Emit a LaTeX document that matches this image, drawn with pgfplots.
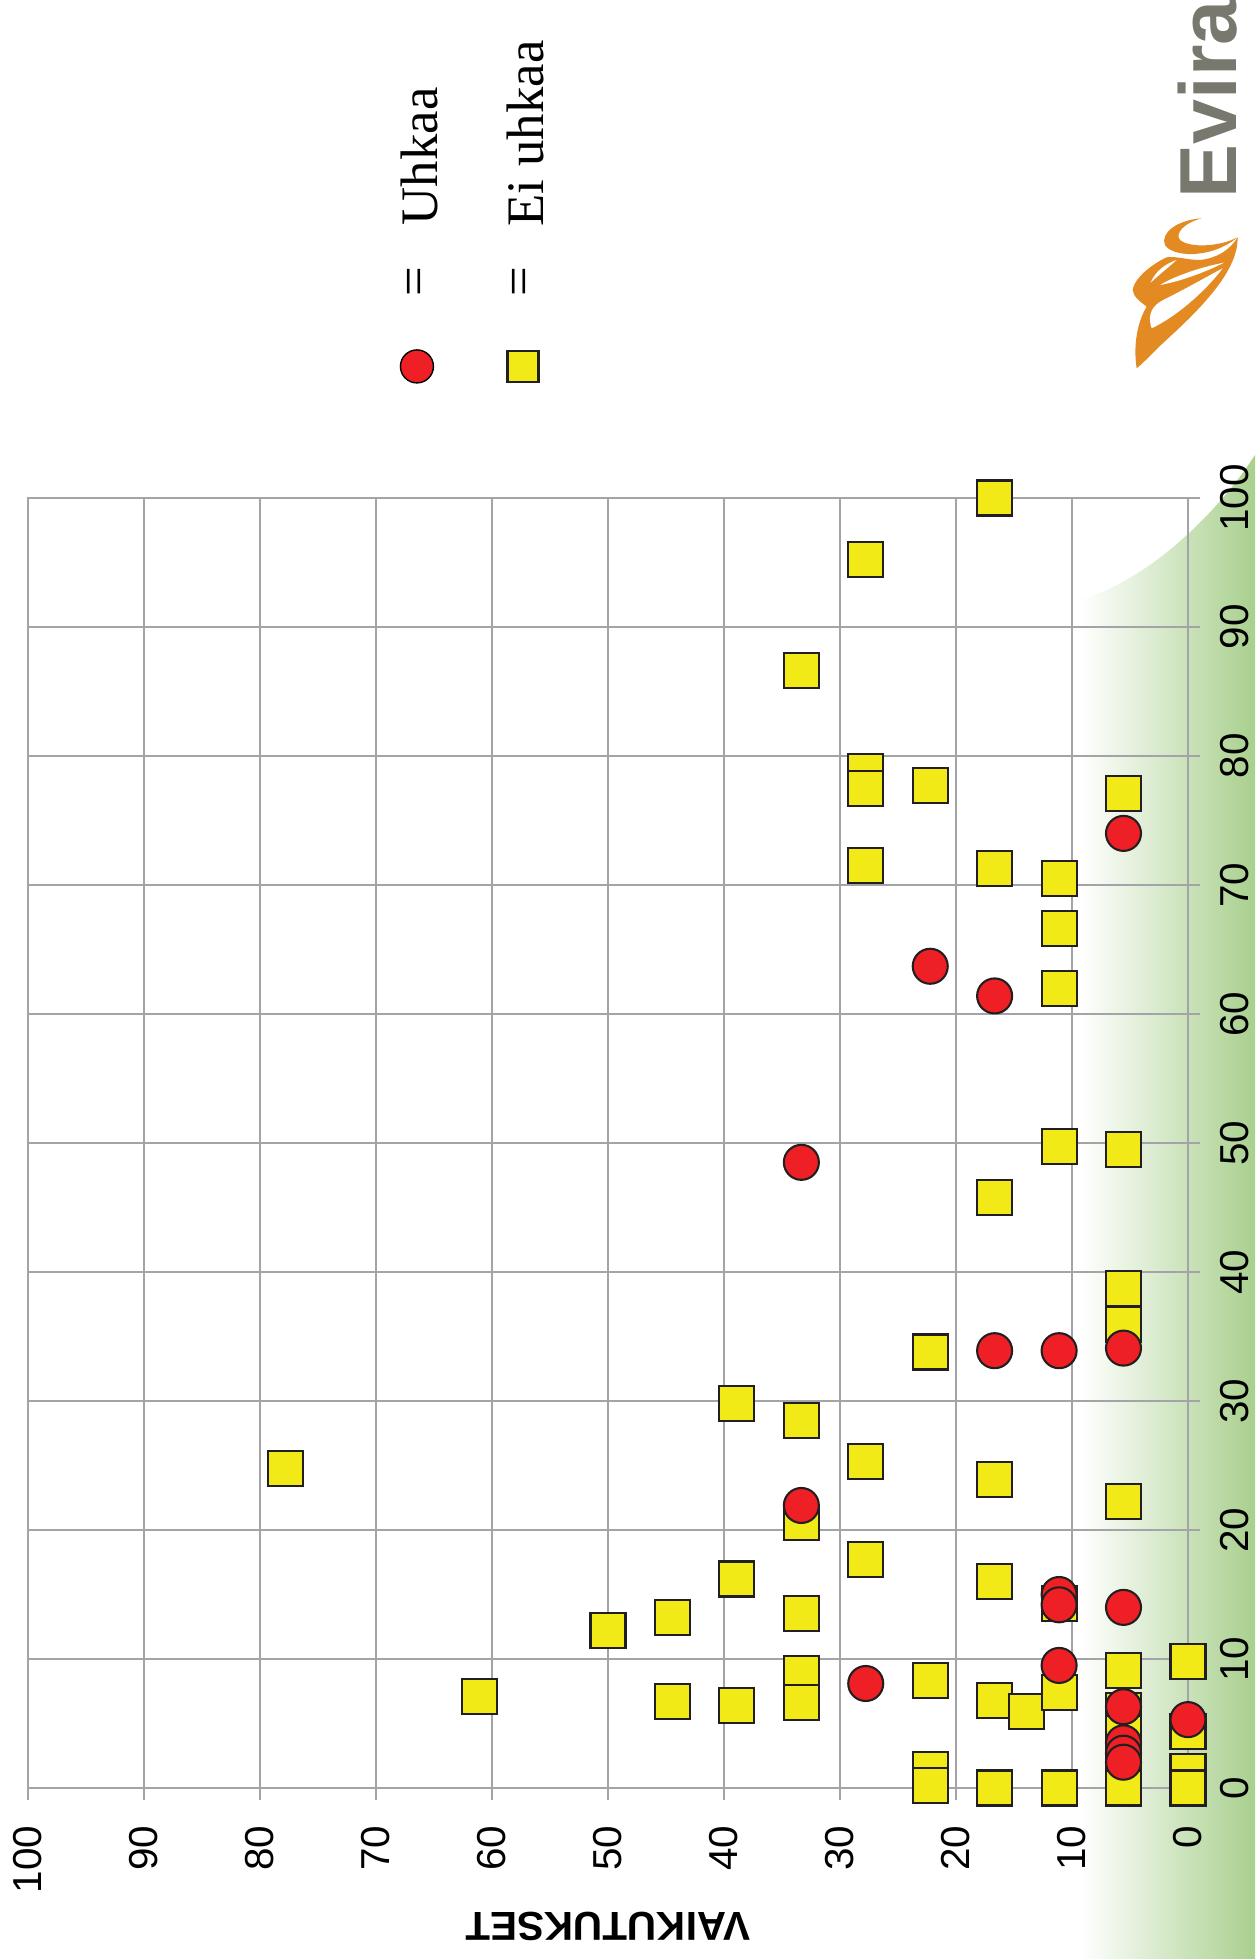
\documentclass[border=0pt]{standalone}
\usepackage{pgfplots}
\pgfplotsset{compat=1.18}
\usepackage{fontspec}
\setmainfont{Liberation Serif}
\newfontfamily\arial{Liberation Sans}
\definecolor{ured}{HTML}{EE1F25}
\definecolor{eyel}{HTML}{F2EA17}
\definecolor{edge}{HTML}{231F20}
\definecolor{gridc}{HTML}{A3A4A8}
\definecolor{green1}{HTML}{A9D08E}
\definecolor{orange1}{HTML}{E38B22}
\definecolor{evgray}{HTML}{78786F}
\begin{document}
\begin{tikzpicture}
\path[use as bounding box] (0,0) rectangle (12.55,19.59);
\clip (0,0) rectangle (12.55,19.59);
\shade[left color=white, middle color=green1!35, right color=green1] (10.80,0) -- (10.80,13.59) .. controls (11.5,13.79) and (12.2,14.49) .. (12.55,15.04) -- (12.55,0) -- cycle;
\begin{axis}[
  at={(0.28cm,1.71cm)}, anchor=south west,
  scale only axis, width=11.60cm, height=12.90cm,
  xmin=0, xmax=100, ymin=0, ymax=100, x dir=reverse,
  xtick={0,10,...,100}, ytick={0,10,...,100},
  grid=major, major grid style={gridc, line width=0.6pt},
  axis line style={gridc, line width=0.6pt},
  tick style={gridc, line width=0.6pt},
  tick align=outside, major tick length=1.2mm,
  xtick pos=left, ytick pos=right, yticklabel pos=right,
  tick label style={font=\arial\fontsize{11.5}{12}\selectfont, /pgf/number format/assume math mode=true},
  xticklabel style={yshift=-2.5mm, rotate=90, anchor=east, inner sep=0pt},
  yticklabel style={xshift=2.0mm, rotate=90, anchor=north, inner sep=0pt},
  clip=false,
  xlabel={VAIKUTUKSET},
  xlabel style={at={(axis description cs:0.5,-0.107)}, anchor=center, rotate=180, font=\arial\bfseries\fontsize{11.5}{12}\selectfont},
]
% Ei uhkaa
\addplot[only marks, mark=square*, mark size=1.75mm, mark options={fill=eyel, draw=edge, line width=0.6pt}] coordinates {
(77.78,24.8) (61.11,7.1) (50,12.2) (44.44,13.2) (44.44,6.7)
(38.89,29.8) (38.89,16.2) (38.89,6.4)
(33.33,86.6) (33.33,28.5) (33.33,20.6) (33.33,13.5) (33.33,8.9) (33.33,6.6) (33.33,6.6)
(27.78,95.2) (27.78,78.8) (27.78,77.5) (27.78,71.5) (27.78,25.3) (27.78,17.7)
(22.22,77.7) (22.22,33.8) (22.22,8.3) (22.22,1.4) (22.22,0.2)
(16.67,100) (16.67,71.3) (16.67,45.8) (16.67,23.9) (16.67,16.0) (16.67,6.8) (16.67,0)
(13.89,5.9)
(11.11,70.5) (11.11,66.6) (11.11,62.0) (11.11,49.7) (11.11,14.3) (11.11,7.4) (11.11,0)
(5.56,77.1) (5.56,77.1) (5.56,49.5) (5.56,49.5) (5.56,38.7) (5.56,35.9) (5.56,22.2) (5.56,9.1)
(5.56,6.0) (5.56,4.2) (5.56,2.0) (5.56,0)
(0,9.8) (0,4.4) (0,1.3) (0,0)
};
% Uhkaa
\addplot[only marks, mark=*, mark size=1.75mm, mark options={fill=ured, draw=edge, line width=0.6pt}] coordinates {
(5.56,74.0) (22.22,63.7) (16.67,61.4) (33.33,48.5)
(16.67,33.9) (11.11,33.9) (5.56,34.1) (33.33,21.9)
(11.11,15.0) (11.11,14.2) (5.56,14.0) (27.78,8.1) (11.11,9.5)
(5.56,6.3) (5.56,3.5) (5.56,2.7) (5.56,2.0) (0,5.3)
};
% legend keys
\addplot[only marks, mark=*, mark size=1.65mm, mark options={fill=ured, draw=none}] coordinates {(66.47,110.2)};
\addplot[only marks, mark=square*, mark size=1.55mm, mark options={fill=eyel, draw=edge, line width=0.6pt}] coordinates {(57.33,110.2)};
\node[rotate=90, anchor=center, inner sep=0pt, font=\fontsize{15}{18}\selectfont] at (axis cs:66.29,116.8) {=};
\node[rotate=90, anchor=center, inner sep=0pt, font=\fontsize{15}{18}\selectfont] at (axis cs:57.24,116.8) {=};
\node[rotate=90, anchor=base west, inner sep=0pt, font=\fontsize{15}{18}\selectfont] at (axis cs:64.74,121.1) {Uhkaa};
\node[rotate=90, anchor=base west, inner sep=0pt, font=\fontsize{15}{18}\selectfont] at (axis cs:55.6,121.0) {Ei uhkaa};
\end{axis}
% Evira logo
\node[rotate=90, anchor=base west, inner sep=0pt, text=evgray, font=\arial\bfseries\fontsize{23}{23}\selectfont] at (12.36,17.60) {Evira};
\begin{scope}[shift={(11.10,17.59)}, x={(0.03333mm,0)}, y={(0,-0.03333mm)}]
\fill[orange1] (383,112) .. controls (385,200) and (300,300) .. (180,410) .. controls (130,455) and (100,490) .. (80,505) .. controls (70,440) and (80,370) .. (110,320) .. controls (90,305) and (70,290) .. (68,270) .. controls (70,240) and (120,195) .. (170,172) .. controls (200,168) and (230,180) .. (270,180) .. controls (320,175) and (360,150) .. (383,112) -- cycle;
\fill[white] (125,385) .. controls (110,340) and (130,315) .. (160,300) .. controls (230,265) and (300,225) .. (338,205) .. controls (290,270) and (200,350) .. (125,385) -- cycle;
\fill[white] (150,255) .. controls (200,225) and (280,200) .. (342,188) .. controls (290,215) and (210,245) .. (150,255) -- cycle;
\fill[white] (122,248) .. controls (135,215) and (165,192) .. (200,180) .. controls (178,200) and (150,222) .. (122,248) -- cycle;
\fill[orange1] (275,55) .. controls (200,60) and (150,100) .. (165,135) .. controls (185,170) and (300,180) .. (383,112) .. controls (330,140) and (240,145) .. (210,120) .. controls (195,100) and (220,70) .. (275,55) -- cycle;
\end{scope}
\end{tikzpicture}
\end{document}
